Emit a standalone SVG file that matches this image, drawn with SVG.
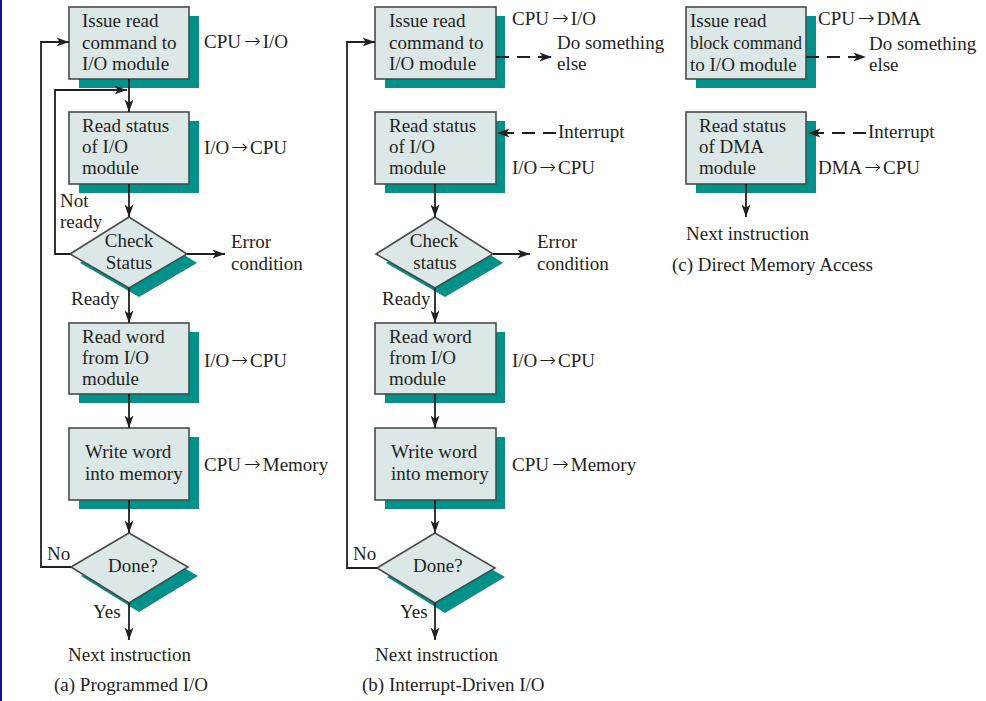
<svg xmlns="http://www.w3.org/2000/svg" width="986" height="701" viewBox="0 0 986 701">
<style>
  text { font-family: "Liberation Serif", "Times New Roman", serif; font-size: 19px; fill: #231f20; }
  .arr { font-family: "DejaVu Sans", "Liberation Sans", sans-serif; font-size: 20px; font-weight: 200; }
  .box { fill: #dce8e8; stroke: #4a4a4a; stroke-width: 1.6; }
  .sh { fill: #00918a; stroke: none; }
  .ln { fill: none; stroke: #231f20; stroke-width: 1.8; }
  .dash { fill: none; stroke: #231f20; stroke-width: 1.8; stroke-dasharray: 13 8; }
  .mid { text-anchor: middle; }
</style>
<defs>
  <marker id="ah" markerUnits="userSpaceOnUse" markerWidth="13" markerHeight="10" viewBox="0 0 13 10" refX="12.5" refY="5" orient="auto">
    <path d="M0,0.5 L12.5,5 L0,9.5 L3.2,5 Z" fill="#231f20"/>
  </marker>
</defs>
<rect x="0" y="0" width="2" height="701" fill="#10109a"/>

<!-- ===== (a) Programmed I/O ===== -->
<g id="a-issue">
  <rect class="sh" x="79" y="16" width="120" height="72"/>
  <rect class="box" x="69" y="7" width="120" height="72"/>
  <text x="82" y="27">Issue read</text>
  <text x="82" y="48.5">command to</text>
  <text x="82" y="70">I/O module</text>
</g>
<text x="204" y="48">CPU<tspan class="arr" dx="3">→</tspan><tspan dx="2">I/O</tspan></text>
<g id="a-readstatus">
  <rect class="sh" x="79" y="121" width="120" height="72"/>
  <rect class="box" x="69" y="112" width="120" height="72"/>
  <text x="82" y="131.5">Read status</text>
  <text x="82" y="152.5">of I/O</text>
  <text x="82" y="174">module</text>
</g>
<text x="204" y="154">I/O<tspan class="arr" dx="2">→</tspan><tspan dx="2">CPU</tspan></text>
<g id="a-check">
  <polygon class="sh" points="80,263 139,226 197,263 139,297"/>
  <polygon class="box" points="70,254 129,217 187,254 129,288"/>
  <text class="mid" x="129" y="247">Check</text>
  <text class="mid" x="129" y="269">Status</text>
</g>
<g id="a-readword">
  <rect class="sh" x="79" y="332" width="120" height="71"/>
  <rect class="box" x="69" y="323" width="120" height="71"/>
  <text x="82" y="342.5">Read word</text>
  <text x="82" y="364">from I/O</text>
  <text x="82" y="385">module</text>
</g>
<text x="204" y="366.5">I/O<tspan class="arr" dx="2">→</tspan><tspan dx="2">CPU</tspan></text>
<g id="a-write">
  <rect class="sh" x="79" y="437" width="120" height="72"/>
  <rect class="box" x="69" y="428" width="120" height="72"/>
  <text x="85" y="457.5">Write word</text>
  <text x="85" y="480">into memory</text>
</g>
<text x="204" y="471">CPU<tspan class="arr" dx="3">→</tspan><tspan dx="2">Memory</tspan></text>
<g id="a-done">
  <polygon class="sh" points="81,576 139,542 198,576 139,612"/>
  <polygon class="box" points="71,567 129,533 188,567 129,603"/>
  <text x="108" y="572">Done?</text>
</g>
<text x="231" y="248">Error</text>
<text x="231" y="269.5">condition</text>
<text x="60" y="207">Not</text>
<text x="60" y="228">ready</text>
<text x="71" y="305">Ready</text>
<text x="47" y="560">No</text>
<text x="93" y="618">Yes</text>
<text x="68" y="661">Next instruction</text>
<text x="54" y="691">(a) Programmed I/O</text>

<!-- ===== (b) Interrupt-Driven I/O ===== -->
<g id="b-issue">
  <rect class="sh" x="385" y="16" width="120" height="72"/>
  <rect class="box" x="375" y="7" width="121" height="72"/>
  <text x="389" y="27">Issue read</text>
  <text x="389" y="48.5">command to</text>
  <text x="389" y="70">I/O module</text>
</g>
<text x="512" y="24.5">CPU<tspan class="arr" dx="3">→</tspan><tspan dx="2">I/O</tspan></text>
<text x="557" y="48.5">Do something</text>
<text x="557" y="69.5">else</text>
<g id="b-readstatus">
  <rect class="sh" x="385" y="121" width="120" height="72"/>
  <rect class="box" x="375" y="112" width="121" height="72"/>
  <text x="389" y="131.5">Read status</text>
  <text x="389" y="152.5">of I/O</text>
  <text x="389" y="174">module</text>
</g>
<text x="558" y="138">Interrupt</text>
<text x="512" y="174">I/O<tspan class="arr" dx="2">→</tspan><tspan dx="2">CPU</tspan></text>
<g id="b-check">
  <polygon class="sh" points="386,263 445,226 503,263 445,297"/>
  <polygon class="box" points="376,254 435,217 493,254 435,288"/>
  <text class="mid" x="434" y="247">Check</text>
  <text class="mid" x="435" y="269">status</text>
</g>
<text x="537" y="248">Error</text>
<text x="537" y="269.5">condition</text>
<text x="382" y="305">Ready</text>
<g id="b-readword">
  <rect class="sh" x="385" y="332" width="120" height="71"/>
  <rect class="box" x="375" y="323" width="121" height="71"/>
  <text x="389" y="342.5">Read word</text>
  <text x="389" y="364">from I/O</text>
  <text x="389" y="385">module</text>
</g>
<text x="512" y="366.5">I/O<tspan class="arr" dx="2">→</tspan><tspan dx="2">CPU</tspan></text>
<g id="b-write">
  <rect class="sh" x="385" y="437" width="120" height="72"/>
  <rect class="box" x="375" y="428" width="121" height="72"/>
  <text x="391" y="457.5">Write word</text>
  <text x="391" y="480">into memory</text>
</g>
<text x="512" y="471">CPU<tspan class="arr" dx="3">→</tspan><tspan dx="2">Memory</tspan></text>
<g id="b-done">
  <polygon class="sh" points="387,577 445,542 505,577 445,613"/>
  <polygon class="box" points="377,568 435,533 495,568 435,603"/>
  <text x="413" y="572">Done?</text>
</g>
<text x="353" y="560">No</text>
<text x="400" y="618">Yes</text>
<text x="375" y="661">Next instruction</text>
<text x="362" y="691">(b) Interrupt-Driven I/O</text>

<!-- ===== (c) Direct Memory Access ===== -->
<g id="c-issue">
  <rect class="sh" x="696" y="16" width="120" height="72"/>
  <rect class="box" x="686" y="7" width="120" height="72"/>
  <text x="690" y="27">Issue read</text>
  <text x="690" y="49" textLength="112" lengthAdjust="spacingAndGlyphs">block command</text>
  <text x="690" y="71">to I/O module</text>
</g>
<text x="818" y="25">CPU<tspan class="arr" dx="3">→</tspan><tspan dx="2">DMA</tspan></text>
<text x="869" y="50">Do something</text>
<text x="869" y="71">else</text>
<g id="c-readstatus">
  <rect class="sh" x="696" y="121" width="120" height="72"/>
  <rect class="box" x="686" y="112" width="120" height="72"/>
  <text x="699" y="131.5">Read status</text>
  <text x="699" y="152.5">of DMA</text>
  <text x="699" y="174">module</text>
</g>
<text x="868" y="138">Interrupt</text>
<text x="818" y="174">DMA<tspan class="arr" dx="2">→</tspan><tspan dx="2">CPU</tspan></text>
<text x="686" y="240">Next instruction</text>
<text x="672" y="270.5">(c) Direct Memory Access</text>

<!-- ===== connectors ===== -->
<g id="connectors">
  <!-- (a) -->
  <path class="ln" d="M129,79 V112" marker-end="url(#ah)"/>
  <path class="ln" d="M129,184 V217" marker-end="url(#ah)"/>
  <path class="ln" d="M70,254 H55 V90 H127" marker-end="url(#ah)"/>
  <path class="ln" d="M187,254 H225" marker-end="url(#ah)"/>
  <path class="ln" d="M129,288 V323" marker-end="url(#ah)"/>
  <path class="ln" d="M129,394 V428" marker-end="url(#ah)"/>
  <path class="ln" d="M129,500 V533" marker-end="url(#ah)"/>
  <path class="ln" d="M71,567 H41 V42 H69" marker-end="url(#ah)"/>
  <path class="ln" d="M129,603 V640" marker-end="url(#ah)"/>
  <!-- (b) -->
  <path class="dash" d="M496,57 H552" marker-end="url(#ah)"/>
  <path class="dash" d="M556,133 H497" marker-end="url(#ah)"/>
  <path class="ln" d="M435,184 V217" marker-end="url(#ah)"/>
  <path class="ln" d="M493,254 H530" marker-end="url(#ah)"/>
  <path class="ln" d="M435,288 V323" marker-end="url(#ah)"/>
  <path class="ln" d="M435,394 V428" marker-end="url(#ah)"/>
  <path class="ln" d="M435,500 V533" marker-end="url(#ah)"/>
  <path class="ln" d="M377,568 H347 V42 H375" marker-end="url(#ah)"/>
  <path class="ln" d="M435,603 V640" marker-end="url(#ah)"/>
  <!-- (c) -->
  <path class="dash" d="M806,57 H866" marker-end="url(#ah)"/>
  <path class="dash" d="M866,133 H808" marker-end="url(#ah)"/>
  <path class="ln" d="M746,184 V217" marker-end="url(#ah)"/>
</g>
</svg>
